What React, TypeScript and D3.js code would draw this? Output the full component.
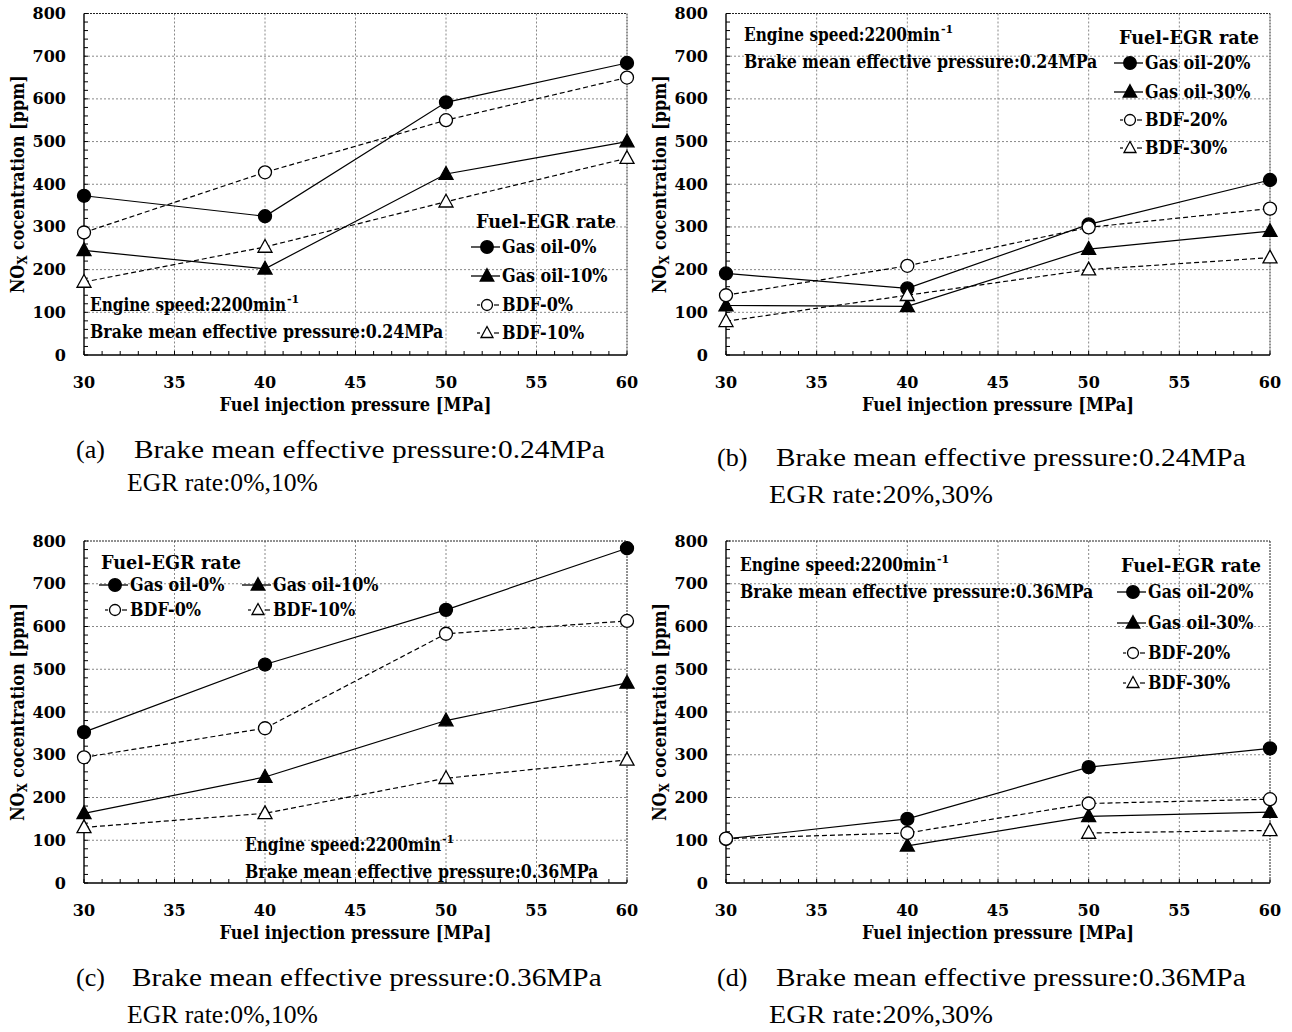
import React, { useLayoutEffect, useRef, useState } from "react";
import * as d3 from "d3";

// fuel injection pressure [MPa]
const pressure = [30, 40, 50, 60];
const xTicks = [30, 35, 40, 45, 50, 55, 60];
const yTicks = [0, 100, 200, 300, 400, 500, 600, 700, 800];

// (a) BMEP 0.24MPa, EGR 0%,10%
const aGasOil0 = [373, 325, 592, 684];
const aGasOil10 = [245, 202, 424, 500];
const aBdf0 = [287, 428, 550, 650];
const aBdf10 = [171, 253, 359, 461];

// (b) BMEP 0.24MPa, EGR 20%,30%
const bGasOil20 = [191, 156, 306, 410];
const bGasOil30 = [116, 114, 248, 290];
const bBdf20 = [140, 209, 299, 343];
const bBdf30 = [79, 140, 200, 228];

// (c) BMEP 0.36MPa, EGR 0%,10%
const cGasOil0 = [353, 511, 639, 783];
const cGasOil10 = [163, 248, 380, 468];
const cBdf0 = [294, 362, 583, 613];
const cBdf10 = [130, 163, 245, 288];

// (d) BMEP 0.36MPa, EGR 20%,30%
const dGasOil20 = [103, 150, 271, 315];
const dGasOil30 = [null, 87, 156, 166];
const dBdf20 = [104, 117, 186, 196];
const dBdf30 = [null, null, 117, 123];

const BOLD = "'DejaVu Serif', serif";
const CAP = "'Liberation Serif', serif";
const SX = 0.89; // squeeze DejaVu a bit

type Shape = "circle" | "triangle";
type Series = { name: string; values: (number | null)[]; filled: boolean; shape: Shape };

const mk = (name: string, values: (number | null)[], filled: boolean, shape: Shape): Series => ({
  name,
  values,
  filled,
  shape,
});

const panels = [
  {
    left: 84, right: 627, top: 13.5, bottom: 355,
    series: [
      mk("Gas oil-0%", aGasOil0, true, "circle"),
      mk("Gas oil-10%", aGasOil10, true, "triangle"),
      mk("BDF-0%", aBdf0, false, "circle"),
      mk("BDF-10%", aBdf10, false, "triangle"),
    ],
    legendTitle: [476, 221],
    legendPos: [[487, 247], [487, 276], [487, 305], [487, 333]],
    note: { x: 90, y: 305, bmep: "0.24MPa" },
    caption: { tag: "(a)", tx: 76, x: 134, y: 449, w: 471, x2: 127, y2: 482, w2: 191, egr: "EGR rate:0%,10%" },
  },
  {
    left: 726, right: 1270, top: 13.5, bottom: 355,
    series: [
      mk("Gas oil-20%", bGasOil20, true, "circle"),
      mk("Gas oil-30%", bGasOil30, true, "triangle"),
      mk("BDF-20%", bBdf20, false, "circle"),
      mk("BDF-30%", bBdf30, false, "triangle"),
    ],
    legendTitle: [1119, 37],
    legendPos: [[1130, 63], [1130, 92], [1130, 120], [1130, 148]],
    note: { x: 744, y: 35, bmep: "0.24MPa" },
    caption: { tag: "(b)", tx: 717, x: 776, y: 457, w: 470, x2: 769, y2: 494, w2: 224, egr: "EGR rate:20%,30%" },
  },
  {
    left: 84, right: 627, top: 541, bottom: 883,
    series: [
      mk("Gas oil-0%", cGasOil0, true, "circle"),
      mk("Gas oil-10%", cGasOil10, true, "triangle"),
      mk("BDF-0%", cBdf0, false, "circle"),
      mk("BDF-10%", cBdf10, false, "triangle"),
    ],
    legendTitle: [101, 562],
    legendPos: [[115, 585], [258, 585], [115, 610], [258, 610]],
    note: { x: 245, y: 845, bmep: "0.36MPa" },
    caption: { tag: "(c)", tx: 76, x: 132, y: 977, w: 470, x2: 127, y2: 1014, w2: 191, egr: "EGR rate:0%,10%" },
  },
  {
    left: 726, right: 1270, top: 541, bottom: 883,
    series: [
      mk("Gas oil-20%", dGasOil20, true, "circle"),
      mk("Gas oil-30%", dGasOil30, true, "triangle"),
      mk("BDF-20%", dBdf20, false, "circle"),
      mk("BDF-30%", dBdf30, false, "triangle"),
    ],
    legendTitle: [1121, 565],
    legendPos: [[1133, 592], [1133, 623], [1133, 653], [1133, 683]],
    note: { x: 740, y: 565, bmep: "0.36MPa" },
    caption: { tag: "(d)", tx: 717, x: 776, y: 977, w: 470, x2: 769, y2: 1014, w2: 224, egr: "EGR rate:20%,30%" },
  },
];

function Marker({ shape, filled, cx, cy, r = 6.5 }: { shape: Shape; filled: boolean; cx: number; cy: number; r?: number }) {
  const fill = filled ? "#000" : "#fff";
  if (shape === "circle") {
    return <circle cx={cx} cy={cy} r={r} fill={fill} stroke="#000" strokeWidth={1.3} />;
  }
  const s = r + 0.5;
  return (
    <path
      d={`M${cx},${cy - s - 0.5}L${cx + s},${cy + s * 0.75}L${cx - s},${cy + s * 0.75}Z`}
      fill={fill}
      stroke="#000"
      strokeWidth={1.3}
    />
  );
}

// text squeezed/stretched horizontally to a given width (via transform, not textLength)
function FitText({ x, y, w, rotate = 0, anchor = "start", family = BOLD, bold = true, size = 18, children }: any) {
  const ref = useRef<SVGTextElement>(null);
  const [sx, setSx] = useState(SX);
  useLayoutEffect(() => {
    if (!ref.current) return;
    const n = ref.current.getComputedTextLength();
    if (n > 0) setSx(w / n);
  }, [w]);
  return (
    <text ref={ref} transform={`translate(${x},${y})${rotate ? ` rotate(${rotate})` : ""} scale(${sx},1)`}
      dominantBaseline="central" textAnchor={anchor} fontFamily={family} fontWeight={bold ? "bold" : "normal"}
      fontSize={size}>
      {children}
    </text>
  );
}

function BText({ x, y, size = 18, children }: any) {
  return (
    <text transform={`translate(${x},${y}) scale(${SX},1)`} dominantBaseline="central"
      fontFamily={BOLD} fontWeight="bold" fontSize={size}>
      {children}
    </text>
  );
}

function Panel({ p }: { p: (typeof panels)[number] }) {
  const x = d3.scaleLinear().domain([30, 60]).range([p.left, p.right]);
  const y = d3.scaleLinear().domain([0, 800]).range([p.bottom, p.top]);
  const minorX = d3.range(30, 61, 1);
  const minorY = d3.range(0, 801, 20);
  const line = d3
    .line<number | null>()
    .defined((d) => d != null)
    .x((_, i) => x(pressure[i]))
    .y((d) => y(d as number));
  const midY = (p.top + p.bottom) / 2;
  const midX = (p.left + p.right) / 2;

  return (
    <g>
      {/* grid */}
      {yTicks.slice(1, -1).map((t) => (
        <line key={"gy" + t} x1={p.left} x2={p.right} y1={y(t)} y2={y(t)} stroke="#888" strokeWidth={1} strokeDasharray="2,2" />
      ))}
      {xTicks.slice(1, -1).map((t) => (
        <line key={"gx" + t} x1={x(t)} x2={x(t)} y1={p.top} y2={p.bottom} stroke="#888" strokeWidth={1} strokeDasharray="2,2" />
      ))}
      {/* frame top / right */}
      <line x1={p.left} x2={p.right} y1={p.top} y2={p.top} stroke="#222" strokeWidth={1} strokeDasharray="2,1" />
      <line x1={p.right} x2={p.right} y1={p.top} y2={p.bottom} stroke="#222" strokeWidth={1} strokeDasharray="2,1" />
      {/* minor ticks */}
      {minorX.map((t) => (
        <line key={"mx" + t} x1={x(t)} x2={x(t)} y1={p.bottom} y2={p.bottom - 4} stroke="#000" strokeWidth={1} />
      ))}
      {minorY.map((t) => (
        <line key={"my" + t} x1={p.left} x2={p.left + 4} y1={y(t)} y2={y(t)} stroke="#000" strokeWidth={1} />
      ))}
      {/* axes */}
      <line x1={p.left} x2={p.right} y1={p.bottom} y2={p.bottom} stroke="#000" strokeWidth={1.4} />
      <line x1={p.left} x2={p.left} y1={p.top} y2={p.bottom} stroke="#000" strokeWidth={1.4} />

      {/* tick labels */}
      {yTicks.map((t) => (
        <text key={"ty" + t} x={p.left - 18} y={y(t)} textAnchor="end" dominantBaseline="central"
          fontFamily={BOLD} fontWeight="bold" fontSize={16}>
          {t}
        </text>
      ))}
      {xTicks.map((t) => (
        <text key={"tx" + t} x={x(t)} y={p.bottom + 27} textAnchor="middle" dominantBaseline="central"
          fontFamily={BOLD} fontWeight="bold" fontSize={16}>
          {t}
        </text>
      ))}

      {/* axis titles */}
      <FitText x={midX - 136} y={p.bottom + 50} w={272}>
        Fuel injection pressure  [MPa]
      </FitText>
      <FitText x={p.left - 66} y={midY} w={218} rotate={-90} anchor="middle">
        NO<tspan fontSize={13} dy={4}>X</tspan>
        <tspan dy={-4}> cocentration  [ppm]</tspan>
      </FitText>

      {/* series */}
      {p.series.map((s) => (
        <path key={"l" + s.name} d={line(s.values) || ""} fill="none" stroke="#000"
          strokeWidth={1.2} strokeDasharray={s.filled ? undefined : "5,3"} />
      ))}
      {p.series.map((s) =>
        s.values.map((v, i) =>
          v == null ? null : (
            <Marker key={s.name + i} shape={s.shape} filled={s.filled} cx={x(pressure[i])} cy={y(v)} />
          )
        )
      )}

      {/* legend */}
      <FitText x={p.legendTitle[0]} y={p.legendTitle[1]} w={140}>
        Fuel-EGR rate
      </FitText>
      {p.series.map((s, i) => {
        const [cx, cy] = p.legendPos[i];
        return (
          <g key={"lg" + s.name}>
            {s.filled ? (
              <line x1={cx - 16} x2={cx + 13} y1={cy} y2={cy} stroke="#000" strokeWidth={1.3} />
            ) : (
              <g stroke="#000" strokeWidth={1.2}>
                <line x1={cx - 10} x2={cx - 7} y1={cy} y2={cy} />
                <line x1={cx + 7} x2={cx + 12} y1={cy} y2={cy} />
              </g>
            )}
            <Marker shape={s.shape} filled={s.filled} cx={cx} cy={cy} r={s.filled ? 6.3 : 5.5} />
            <BText x={cx + 15} y={cy}>
              {s.name}
            </BText>
          </g>
        );
      })}

      {/* conditions note */}
      <FitText x={p.note.x} y={p.note.y} w={196}>
        Engine speed:2200min
      </FitText>
      <text x={p.note.x + 197} y={p.note.y - 6} dominantBaseline="central" fontFamily={BOLD} fontWeight="bold"
        fontSize={11}>
        -1
      </text>
      <FitText x={p.note.x} y={p.note.y + 27} w={353}>
        Brake mean effective pressure:{p.note.bmep}
      </FitText>

      {/* caption */}
      <text x={p.caption.tx} y={p.caption.y} dominantBaseline="central" fontFamily={CAP} fontSize={26}>
        {p.caption.tag}
      </text>
      <FitText x={p.caption.x} y={p.caption.y} w={p.caption.w} family={CAP} bold={false} size={26}>
        Brake mean effective pressure:{p.note.bmep}
      </FitText>
      <FitText x={p.caption.x2} y={p.caption.y2} w={p.caption.w2} family={CAP} bold={false} size={26}>
        {p.caption.egr}
      </FitText>
    </g>
  );
}

export default function App() {
  return (
    <svg width={1292} height={1032} style={{ position: "absolute", left: 0, top: 0, background: "#fff" }}>
      <rect width={1292} height={1032} fill="#fff" />
      {panels.map((p, i) => (
        <Panel key={i} p={p} />
      ))}
    </svg>
  );
}
